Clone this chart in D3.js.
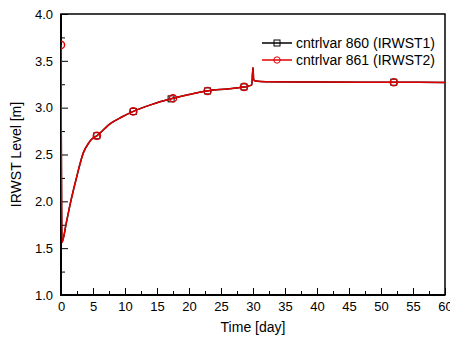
<!DOCTYPE html>
<html>
<head>
<meta charset="utf-8">
<script src="https://cdn.jsdelivr.net/npm/d3@7"></script>
<style>
  body { margin: 0; background: #fff; }
  text { font-family: "Liberation Sans", Arial, sans-serif; fill: #000; }
</style>
</head>
<body>
<div id="chart"></div>
<script>
// time [day] and IRWST levels [m]
const times  = [0, 0.15, 0.8, 1.4, 2.45, 3.5, 4.3, 4.9, 5.6, 7.7, 9.5, 11.3, 14, 17.5, 20, 23, 26, 28.5, 29.8, 30.0, 30.1, 30.4, 32, 40, 52, 60];
const irwst1 = [3.67, 1.56, 1.76, 1.96, 2.26, 2.52, 2.62, 2.67, 2.70, 2.83, 2.90, 2.96, 3.03, 3.10, 3.14, 3.18, 3.20, 3.22, 3.24, 3.43, 3.30, 3.285, 3.278, 3.274, 3.272, 3.27];
const irwst2 = [3.67, 1.56, 1.76, 1.96, 2.26, 2.52, 2.62, 2.67, 2.70, 2.83, 2.90, 2.96, 3.03, 3.10, 3.14, 3.18, 3.20, 3.22, 3.24, 3.43, 3.30, 3.285, 3.278, 3.274, 3.272, 3.27];
const markT1 = [5.6, 11.3, 17.2, 22.9, 28.6, 52];
const markT2 = [0, 5.6, 11.3, 17.5, 22.9, 28.6, 52];
const xTicks = [0, 5, 10, 15, 20, 25, 30, 35, 40, 45, 50, 55, 60];
const yTicks = [1.0, 1.5, 2.0, 2.5, 3.0, 3.5, 4.0];
const seriesNames = ["cntrlvar 860 (IRWST1)", "cntrlvar 861 (IRWST2)"];

const W = 450, H = 340;
const pLeft = 61, pRight = 445, pTop = 14, pBottom = 295;

const svg = d3.select("#chart").append("svg").attr("width", W).attr("height", H);

const x = d3.scaleLinear().domain([0, 60]).range([pLeft, pRight]);
const y = d3.scaleLinear().domain([1, 4]).range([pBottom, pTop]);

svg.append("clipPath").attr("id", "clip")
  .append("rect").attr("x", pLeft).attr("y", pTop).attr("width", pRight - pLeft).attr("height", pBottom - pTop);

// axes with inward ticks
const xMinor = d3.range(2.5, 60, 5);
const yMinor = d3.range(1.25, 4, 0.5);

svg.append("g").attr("transform", `translate(0,${pBottom})`)
  .call(d3.axisBottom(x).tickValues(xMinor).tickSize(-4).tickFormat(""))
  .call(g => g.select(".domain").remove());
svg.append("g").attr("transform", `translate(0,${pBottom})`)
  .call(d3.axisBottom(x).tickValues(xTicks).tickSize(-7).tickPadding(7).tickFormat(d3.format("d")))
  .call(g => g.select(".domain").remove())
  .selectAll("text").style("font-size", "13px");

svg.append("g").attr("transform", `translate(${pLeft},0)`)
  .call(d3.axisLeft(y).tickValues(yMinor).tickSize(-4).tickFormat(""))
  .call(g => g.select(".domain").remove());
svg.append("g").attr("transform", `translate(${pLeft},0)`)
  .call(d3.axisLeft(y).tickValues(yTicks).tickSize(-7).tickPadding(8).tickFormat(d3.format(".1f")))
  .call(g => g.select(".domain").remove())
  .selectAll("text").style("font-size", "13px");

// frame
svg.append("rect").attr("x", pLeft).attr("y", pTop).attr("width", pRight - pLeft).attr("height", pBottom - pTop)
  .attr("fill", "none").attr("stroke", "#000").attr("stroke-width", 1.5);
svg.append("path").attr("d", `M${pLeft},${pTop}V${pBottom}H${pRight}`)
  .attr("fill", "none").attr("stroke", "#000").attr("stroke-width", 2);

svg.append("text").attr("x", (pLeft + pRight) / 2).attr("y", 332).attr("text-anchor", "middle")
  .style("font-size", "14px").text("Time [day]");
svg.append("text").attr("transform", `translate(21,${(pTop + pBottom) / 2}) rotate(-90)`)
  .attr("text-anchor", "middle").style("font-size", "14px").text("IRWST Level [m]");

const line = d3.line().x(d => x(d[0])).y(d => y(d[1])).curve(d3.curveMonotoneX);
const interp = (vals, t) => {
  const i = d3.bisectLeft(times, t);
  if (i <= 0) return vals[0];
  const t0 = times[i - 1], t1 = times[i];
  return vals[i - 1] + (vals[i] - vals[i - 1]) * (t - t0) / (t1 - t0);
};

const plot = svg.append("g").attr("clip-path", "url(#clip)");

// series 1 (black, squares)
plot.append("path").datum(times.map((t, i) => [t, irwst1[i]]))
  .attr("d", line).attr("fill", "none").attr("stroke", "#000").attr("stroke-width", 1.5);
plot.selectAll(".sq").data(markT1).enter().append("rect")
  .attr("x", d => x(d) - 3).attr("y", d => y(interp(irwst1, d)) - 3)
  .attr("width", 6).attr("height", 6).attr("fill", "none").attr("stroke", "#000").attr("stroke-width", 1);

// series 2 (red, circles)
plot.append("path").datum(times.map((t, i) => [t, irwst2[i]]))
  .attr("d", line).attr("fill", "none").attr("stroke", "#e00000").attr("stroke-width", 1.5);
plot.selectAll(".ci").data(markT2).enter().append("circle")
  .attr("cx", d => x(d)).attr("cy", d => y(interp(irwst2, d)))
  .attr("r", 3.6).attr("fill", "none").attr("stroke", "#e00000").attr("stroke-width", 1.4);

// legend
const lg = svg.append("g");
seriesNames.forEach((name, i) => {
  const ly = 43 + i * 17;
  const col = i === 0 ? "#000" : "#e00000";
  lg.append("line").attr("x1", 262).attr("x2", 292).attr("y1", ly).attr("y2", ly)
    .attr("stroke", col).attr("stroke-width", 1.5);
  if (i === 0) {
    lg.append("rect").attr("x", 277 - 3).attr("y", ly - 3).attr("width", 6).attr("height", 6)
      .attr("fill", "none").attr("stroke", col);
  } else {
    lg.append("circle").attr("cx", 277).attr("cy", ly).attr("r", 3.2).attr("fill", "none").attr("stroke", col);
  }
  lg.append("text").attr("x", 296).attr("y", ly + 5).style("font-size", "14px").text(name);
});
</script>
</body>
</html>
